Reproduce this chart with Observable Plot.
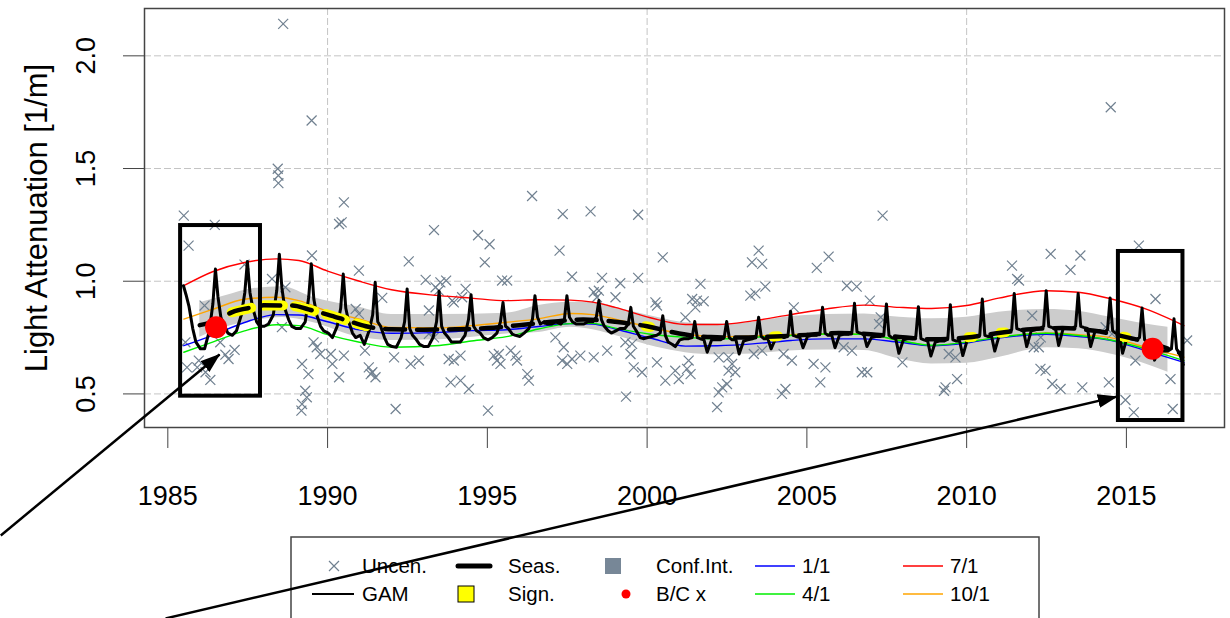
<!DOCTYPE html>
<html><head><meta charset="utf-8">
<script src="https://cdn.jsdelivr.net/npm/d3@7"></script>
<script src="https://cdn.jsdelivr.net/npm/@observablehq/plot@0.6"></script>
<style>body{margin:0;background:#fff;} #chart{width:1230px;height:618px;overflow:hidden}</style>
</head><body><div id="chart"></div>
<script>
// ---------- data ----------
const xTicks = [1985, 1990, 1995, 2000, 2005, 2010, 2015];
const gridYears = [1990, 2000, 2010];
const yTicks = [0.5, 1.0, 1.5, 2.0];
const yTitle = "Light Attenuation [1/m]";

const uncenYear = [1988.61,1989.50,1988.44,1988.46,1988.46,2014.51,1990.51,1990.36,1990.44,1996.40,1997.36,1998.23,1999.72,1993.33,1994.71,1995.07,2007.37,
1985.50,1986.47,1985.65,1987.40,1988.26,1989.51,1986.15,1988.68,1985.55,1985.97,1985.60,1986.18,1986.33,1986.80,1987.09,1986.90,1986.64,1988.57,1989.20,1989.40,1989.66,1989.56,1989.77,1989.30,1989.20,1989.18,1989.35,1985.92,
1992.54,1994.92,1990.98,1993.07,1993.53,1993.71,1993.38,1993.48,1994.32,1994.21,1995.46,1991.71,1990.88,1990.98,1993.17,1993.95,1990.10,1990.15,1990.51,1990.36,1991.17,1991.29,1991.40,1991.50,1991.35,1992.08,1992.60,1992.86,1993.79,1993.95,1994.16,1993.85,1994.16,1994.42,1995.20,1995.30,1995.41,1995.36,1992.13,1995.02,1993.17,1993.33,1993.90,
1997.26,2000.49,1995.62,1997.65,1998.59,1998.49,1998.43,1998.33,1999.16,1999.72,1999.01,2000.26,2000.31,2001.20,1997.13,1997.39,1997.34,1997.50,1997.65,1997.91,1998.33,1998.75,1999.32,1999.53,1999.48,1999.58,1999.84,2000.31,2000.57,2000.88,2000.99,1995.73,1995.88,1995.93,1996.25,1996.30,1999.34,
2003.49,2003.28,2003.60,2005.68,2005.31,2001.67,2003.70,2001.41,2001.56,2001.77,2001.51,2003.23,2003.39,2006.25,2006.56,2004.59,2001.30,2001.36,2001.25,2002.24,2002.55,2002.66,2002.55,2002.76,2002.50,2002.35,2002.24,2002.19,2003.34,2003.60,2004.27,2004.53,2004.22,2004.33,2005.21,2005.58,2005.42,2006.15,2006.41,2006.72,
2011.42,2011.58,2006.97,2007.31,2007.26,2007.99,2009.44,2009.65,2009.34,2009.70,2009.29,2012.05,2012.26,2012.31,2006.89,2011.64,2012.10,2012.32,
2012.63,2013.56,2013.25,2015.39,2015.91,2014.35,2014.55,2016.90,2015.28,2016.38,2012.68,2012.94,2013.62,2014.45,2014.97,2015.23,2016.45,2012.47];
const uncenValue = [2.142,1.713,1.499,1.469,1.435,1.772,1.350,1.254,1.261,1.378,1.298,1.310,1.295,1.227,1.204,1.164,1.291,
1.291,1.250,1.158,1.074,1.010,1.114,0.892,0.973,0.729,0.648,0.618,0.596,0.562,0.674,0.695,0.655,0.729,0.796,0.633,0.588,0.707,0.729,0.677,0.514,0.455,0.426,0.485,0.618,
1.088,1.084,1.047,1.006,0.995,1.003,0.973,0.958,0.966,0.929,1.003,0.926,0.877,0.855,0.870,0.906,0.677,0.633,0.670,0.574,0.692,0.618,0.596,0.574,0.588,0.662,0.633,0.648,0.655,0.648,0.670,0.551,0.559,0.522,0.670,0.648,0.633,0.677,0.433,0.426,0.766,0.751,0.914,
1.136,1.106,1.003,1.020,1.015,0.958,0.929,0.951,0.991,1.015,0.929,0.906,0.892,0.840,0.751,0.707,0.648,0.633,0.655,0.670,0.662,0.692,0.729,0.722,0.677,0.618,0.596,0.640,0.559,0.603,0.566,0.692,0.670,0.648,0.588,0.559,0.488,
1.136,1.084,1.077,1.109,1.059,0.988,0.976,0.921,0.914,0.911,0.884,0.936,0.946,0.980,0.976,0.884,0.648,0.588,0.611,0.662,0.662,0.633,0.603,0.596,0.544,0.529,0.507,0.441,0.677,0.692,0.677,0.648,0.500,0.522,0.633,0.618,0.551,0.707,0.692,0.596,
1.069,1.010,0.914,0.840,0.810,0.640,0.677,0.662,0.529,0.566,0.514,0.847,0.707,0.611,0.596,1.003,0.707,0.751,
1.121,1.114,1.050,1.158,0.921,0.796,0.766,0.737,0.648,0.566,0.544,0.522,0.529,0.551,0.473,0.418,0.433,0.603];

// trend curves for fixed dates (1/1, 4/1, 7/1, 10/1)
const curveYears = [1985.5,1986.4,1987.4,1988.4,1989.1,1990.0,1991.0,1992.0,1993.5,1994.5,1995.6,1996.6,1997.6,1998.3,1999.0,2000.1,2001.2,2002.2,2003.3,2004.5,2005.6,2006.8,2007.9,2008.9,2010.0,2011.0,2012.5,2013.5,2014.5,2015.6,2016.8];
const redValues    = [0.980,1.042,1.083,1.099,1.092,1.045,1.000,0.962,0.936,0.925,0.914,0.918,0.916,0.907,0.884,0.838,0.808,0.808,0.824,0.852,0.877,0.894,0.884,0.879,0.892,0.925,0.958,0.951,0.922,0.877,0.803];
const orangeValues = [0.832,0.875,0.920,0.929,0.914,0.866,0.832,0.795,0.793,0.803,0.818,0.833,0.857,0.852,0.832,0.795,0.765,0.754,0.757,0.763,0.766,0.765,0.737,0.714,0.729,0.751,0.770,0.763,0.750,0.707,0.663];
const blueValues   = [0.714,0.760,0.817,0.852,0.850,0.820,0.784,0.769,0.773,0.781,0.785,0.799,0.812,0.810,0.788,0.748,0.712,0.714,0.722,0.737,0.744,0.744,0.729,0.714,0.726,0.748,0.765,0.755,0.738,0.692,0.640];
const greenValues  = [0.685,0.730,0.780,0.807,0.803,0.763,0.729,0.707,0.715,0.735,0.754,0.788,0.812,0.813,0.792,0.765,0.751,0.744,0.751,0.759,0.766,0.765,0.737,0.716,0.730,0.752,0.769,0.759,0.739,0.700,0.648];

// confidence band
const bandYears = [1986.0,1986.8,1987.7,1988.6,1989.5,1991.0,1992.0,1993.5,1995.6,1996.6,1997.6,1998.3,1999.2,2000.3,2001.2,2002.2,2003.3,2004.3,2005.6,2006.8,2007.9,2008.9,2010.0,2011.0,2012.5,2013.5,2014.5,2015.6,2016.3];
const bandHigh = [0.905,0.936,0.968,0.975,0.930,0.884,0.852,0.852,0.858,0.892,0.907,0.907,0.877,0.840,0.816,0.810,0.818,0.840,0.852,0.855,0.840,0.833,0.840,0.862,0.875,0.867,0.840,0.810,0.796];
const bandLow  = [0.751,0.796,0.825,0.839,0.818,0.751,0.737,0.740,0.766,0.773,0.796,0.785,0.751,0.707,0.683,0.674,0.677,0.689,0.695,0.693,0.655,0.633,0.636,0.662,0.705,0.700,0.677,0.633,0.596];

// GAM: per year, values at fixed seasonal phases
const gamPhase = [0.02,0.15,0.30,0.41,0.49,0.57,0.66,0.78,0.88];
const gamYears = d3.range(1985, 2017);
const gamValues = [
 [null,null,null,null,0.98,0.94,0.89,0.79,0.73],
 [0.70,0.70,0.78,0.90,1.054,0.93,0.84,0.80,0.77],
 [0.76,0.78,0.85,0.95,1.088,0.95,0.88,0.82,0.80],
 [0.80,0.81,0.85,0.96,1.120,0.97,0.88,0.83,0.80],
 [0.79,0.79,0.82,0.93,1.077,0.92,0.85,0.80,0.78],
 [0.77,0.75,0.80,0.88,1.032,0.88,0.82,0.77,0.75],
 [0.76,0.72,0.78,0.85,0.995,0.82,0.80,0.75,0.72],
 [0.71,0.707,0.75,0.82,0.966,0.79,0.76,0.74,0.72],
 [0.71,0.71,0.75,0.82,0.955,0.80,0.77,0.75,0.73],
 [0.73,0.73,0.76,0.83,0.940,0.80,0.78,0.77,0.75],
 [0.74,0.75,0.77,0.82,0.906,0.80,0.79,0.765,0.76],
 [0.755,0.77,0.79,0.83,0.936,0.84,0.81,0.82,0.81],
 [0.81,0.82,0.81,0.83,0.936,0.84,0.82,0.81,0.81],
 [0.81,0.82,0.82,0.84,0.914,0.83,0.80,0.78,0.77],
 [0.78,0.79,0.79,0.81,0.884,0.80,0.78,0.75,0.745],
 [0.75,0.755,0.76,0.77,0.847,0.76,0.73,0.72,0.71],
 [0.74,0.745,0.745,0.75,0.821,0.75,0.745,0.74,0.685],
 [0.74,0.74,0.74,0.75,0.821,0.75,0.74,0.74,0.677],
 [0.735,0.74,0.745,0.755,0.840,0.755,0.745,0.745,0.70],
 [0.745,0.75,0.75,0.76,0.867,0.76,0.755,0.75,0.705],
 [0.755,0.76,0.76,0.77,0.884,0.77,0.76,0.76,0.705],
 [0.76,0.765,0.765,0.775,0.902,0.775,0.77,0.765,0.71],
 [0.75,0.755,0.755,0.765,0.899,0.76,0.75,0.745,0.68],
 [0.74,0.745,0.745,0.755,0.887,0.745,0.74,0.735,0.668],
 [0.73,0.735,0.735,0.745,0.896,0.74,0.735,0.735,0.67],
 [0.74,0.745,0.75,0.76,0.921,0.76,0.755,0.755,0.69],
 [0.76,0.77,0.775,0.785,0.946,0.79,0.785,0.78,0.71],
 [0.78,0.785,0.79,0.80,0.958,0.80,0.795,0.79,0.715],
 [0.79,0.79,0.79,0.80,0.946,0.80,0.795,0.79,0.71],
 [0.78,0.78,0.775,0.785,0.926,0.78,0.77,0.765,0.68],
 [0.75,0.745,0.74,0.75,0.881,0.74,0.73,0.72,0.65],
 [0.70,0.69,0.69,0.70,0.833,0.70,0.68,0.63,null]
];

// seasonal trend, with significant parts
const seasYears  = [1986.0,1986.6,1987.0,1987.7,1988.0,1988.9,1989.4,1990.0,1990.6,1991.2,1992.0,1993.0,1994.0,1995.0,1996.0,1997.0,1998.0,1999.0,2000.0,2001.0,2002.0,2003.0,2004.0,2005.0,2006.0,2007.0,2008.0,2009.0,2010.0,2011.0,2012.0,2013.0,2014.0,2015.0,2016.0,2016.7];
const seasValues = [0.805,0.830,0.862,0.885,0.893,0.892,0.875,0.852,0.826,0.800,0.787,0.785,0.787,0.792,0.805,0.820,0.830,0.820,0.800,0.768,0.752,0.750,0.755,0.762,0.770,0.765,0.752,0.742,0.750,0.770,0.787,0.792,0.780,0.752,0.715,0.680];
const signYears  = [1987.0,1987.7,1988.0,1988.9,1989.4,1990.0,1990.6,1991.2,1999.95,2000.10,2003.95,2004.10,2010.05,2010.20,2011.05,2011.20,2014.90,2015.00];
const signValues = [0.862,0.885,0.893,0.892,0.875,0.852,0.826,0.800,0.800,0.797,0.755,0.756,0.751,0.753,0.771,0.773,0.754,0.752];
const signGroup  = [1,1,1,1,1,1,1,1,2,2,3,3,4,4,5,5,6,6];

// Box-Cox points
const bcYear = [1986.51, 2015.82];
const bcValue = [0.796, 0.700];

// annotation boxes & arrows (in data units)
const boxX1 = [1985.40, 2014.75], boxX2 = [1987.90, 2016.77];
const boxY1 = [0.490, 0.382], boxY2 = [1.247, 1.132];
const arrowX1 = [1979.77, 1984.93], arrowY1 = [-0.128, -0.496];
const arrowX2 = [1986.62, 2014.70], arrowY2 = [0.675, 0.488];

// ---------- tables ----------
const uncen = uncenYear.map((x, i) => ({x, y: uncenValue[i]}));
const curves = [["red", redValues], ["orange", orangeValues], ["blue", blueValues], ["#00ee00", greenValues]];
const band = bandYears.map((x, i) => ({x, lo: bandLow[i], hi: bandHigh[i]}));
const gam = [];
gamYears.forEach((yr, i) => gamPhase.forEach((p, j) => { const v = gamValues[i][j]; if (v != null) gam.push({x: yr + p, y: v}); }));
const seas = seasYears.map((x, i) => ({x, y: seasValues[i]}));
const sign = signYears.map((x, i) => ({x, y: signValues[i], g: signGroup[i]}));
const bc = bcYear.map((x, i) => ({x, y: bcValue[i]}));
const boxes = boxX1.map((x1, i) => ({x1, x2: boxX2[i], y1: boxY1[i], y2: boxY2[i]}));
const arrows = arrowX1.map((x1, i) => ({x1, y1: arrowY1[i], x2: arrowX2[i], y2: arrowY2[i]}));

const FONT = '"Liberation Sans", Arial, Helvetica, sans-serif';

const chart = Plot.plot({
  width: 1230, height: 618,
  marginLeft: 144, marginRight: 6, marginTop: 8, marginBottom: 191,
  style: {fontFamily: FONT, color: "black", background: "white"},
  x: {domain: [1984.27, 2018.07], label: null},
  y: {domain: [0.351, 2.21], label: null},
  marks: [
    Plot.gridX({ticks: gridYears, stroke: "#c4c4c4", strokeOpacity: 1, strokeDasharray: "7,3", strokeWidth: 1}),
    Plot.gridY({ticks: yTicks, stroke: "#c4c4c4", strokeOpacity: 1, strokeDasharray: "7,3", strokeWidth: 1}),
    Plot.areaY(band, {x: "x", y1: "lo", y2: "hi", fill: "#cccccc", curve: "monotone-x"}),
    Plot.dot(uncen, {x: "x", y: "y", symbol: "times", r: 4.6, stroke: "#708090", strokeWidth: 1.2}),
    ...curves.map(([c, vals]) => Plot.line(curveYears.map((x, i) => ({x, y: vals[i]})), {x: "x", y: "y", stroke: c, strokeWidth: 1.4, curve: "monotone-x"})),
    Plot.line(gam, {x: "x", y: "y", stroke: "black", strokeWidth: 3, strokeLinejoin: "round"}),
    Plot.line(sign, {x: "x", y: "y", z: "g", stroke: "yellow", strokeWidth: 10, strokeLinecap: "round", strokeDasharray: "20,12"}),
    Plot.line(seas, {x: "x", y: "y", stroke: "black", strokeWidth: 4.5, strokeLinecap: "round", strokeDasharray: "20,12", curve: "monotone-x"}),
    Plot.dot(bc, {x: "x", y: "y", r: 11, fill: "#ff0000"}),
    Plot.rect(boxes, {x1: "x1", x2: "x2", y1: "y1", y2: "y2", stroke: "black", strokeWidth: 4, fill: "none"}),
    Plot.frame({stroke: "#444", strokeWidth: 1.5}),
    Plot.axisX({ticks: xTicks, tickFormat: d => String(d), tickSize: 21, tickPadding: 37, fontSize: 27, stroke: "#444"}),
    Plot.axisY({ticks: yTicks, tickSize: 21, tickFormat: () => "", stroke: "#444"}),
    Plot.text(yTicks, {y: d => d, text: d => d.toFixed(1), frameAnchor: "left", textAnchor: "middle", lineAnchor: "middle", dx: -58, rotate: -90, fontSize: 27}),
    Plot.text([yTitle], {frameAnchor: "left", textAnchor: "middle", lineAnchor: "middle", dx: -107, rotate: -90, fontSize: 31}),
    Plot.link(arrows, {x1: "x1", y1: "y1", x2: "x2", y2: "y2", stroke: "black", strokeWidth: 2.5})
  ]
});
document.getElementById("chart").appendChild(chart);

// ---------- legend & arrowheads ----------
const svg = d3.select(chart);
const lg = svg.append("g").attr("font-family", FONT).attr("font-size", 20.5).attr("text-anchor", "start");
lg.append("rect").attr("x", 291).attr("y", 537).attr("width", 748).attr("height", 100)
  .attr("fill", "white").attr("stroke", "#444").attr("stroke-width", 1.5);
const legendItems = [
  {kind: "times", x: 334, row: 0, label: "Uncen.", tx: 362},
  {kind: "line", x1: 312, x2: 354, row: 1, color: "black", w: 2, label: "GAM", tx: 362},
  {kind: "line", x1: 458, x2: 490, row: 0, color: "black", w: 5, label: "Seas.", tx: 508},
  {kind: "square", x: 466, row: 1, color: "yellow", label: "Sign.", tx: 508},
  {kind: "square", x: 613, row: 0, color: "#778797", noStroke: true, label: "Conf.Int.", tx: 656},
  {kind: "dot", x: 626, row: 1, color: "red", label: "B/C x", tx: 656},
  {kind: "line", x1: 755, x2: 795, row: 0, color: "blue", w: 1.4, label: "1/1", tx: 802},
  {kind: "line", x1: 755, x2: 795, row: 1, color: "#00ee00", w: 1.4, label: "4/1", tx: 802},
  {kind: "line", x1: 903, x2: 943, row: 0, color: "red", w: 1.4, label: "7/1", tx: 950},
  {kind: "line", x1: 903, x2: 943, row: 1, color: "orange", w: 1.4, label: "10/1", tx: 950}
];
const rowY = [566, 594];
for (const it of legendItems) {
  const cy = rowY[it.row];
  if (it.kind === "times") {
    lg.append("path").attr("d", `M${it.x-5},${cy-5}L${it.x+5},${cy+5}M${it.x-5},${cy+5}L${it.x+5},${cy-5}`)
      .attr("stroke", "#708090").attr("stroke-width", 1.2);
  } else if (it.kind === "line") {
    lg.append("line").attr("x1", it.x1).attr("x2", it.x2).attr("y1", cy).attr("y2", cy)
      .attr("stroke", it.color).attr("stroke-width", it.w).attr("stroke-linecap", it.w > 3 ? "round" : "butt");
  } else if (it.kind === "square") {
    lg.append("rect").attr("x", it.x - 8).attr("y", cy - 8).attr("width", 16).attr("height", 16)
      .attr("fill", it.color).attr("stroke", it.noStroke ? "none" : "black").attr("stroke-width", 1);
  } else if (it.kind === "dot") {
    lg.append("circle").attr("cx", it.x).attr("cy", cy).attr("r", 4.5).attr("fill", it.color);
  }
  lg.append("text").attr("x", it.tx).attr("y", cy + 7).attr("fill", "black").text(it.label);
}
const defs = svg.append("defs");
defs.append("marker").attr("id", "ahead").attr("viewBox", "0 0 20 14").attr("refX", 19).attr("refY", 7)
  .attr("markerWidth", 20).attr("markerHeight", 14).attr("markerUnits", "userSpaceOnUse").attr("orient", "auto")
  .append("path").attr("d", "M0,0L20,7L0,14Z").attr("fill", "black");
const linkG = svg.select('g[aria-label="link"]');
linkG.selectAll("path").attr("marker-end", "url(#ahead)");
linkG.raise();
</script></body></html>
